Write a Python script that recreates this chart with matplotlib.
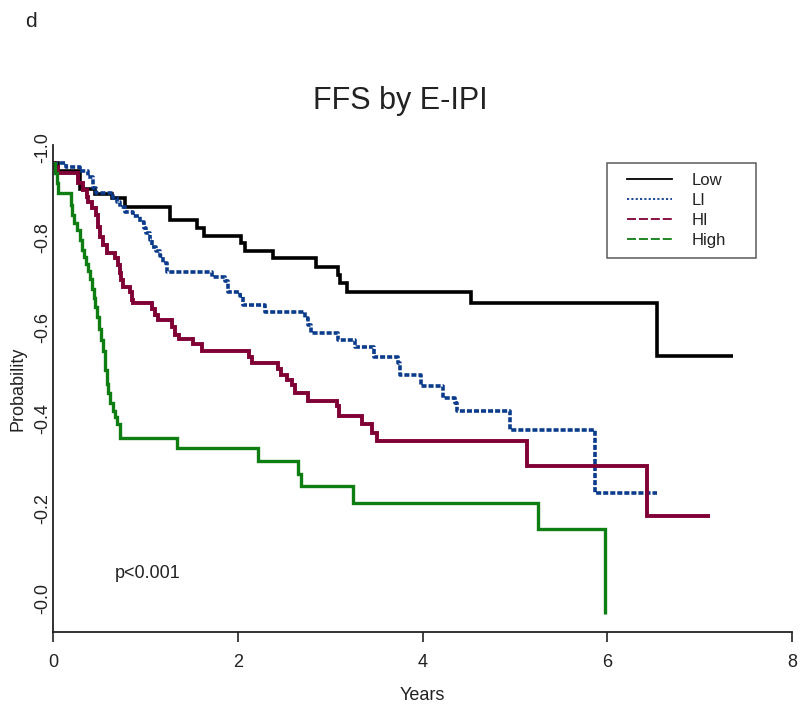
import matplotlib
matplotlib.use("Agg")
import matplotlib.pyplot as plt
from matplotlib.lines import Line2D
from matplotlib.legend_handler import HandlerLine2D

plt.rcParams['font.family'] = ['Liberation Sans', 'DejaVu Sans']

# ---------------- data ----------------
groups = ["Low", "LI", "HI", "High"]

low_t = [0.05, 0.29, 0.45, 0.64, 0.78, 1.27, 1.56, 1.63, 2.04, 2.08, 2.38, 2.85,
         3.08, 3.11, 3.18, 4.52, 6.54]
low_p = [0.983, 0.942, 0.931, 0.922, 0.902, 0.873, 0.855, 0.838, 0.822, 0.804,
         0.789, 0.769, 0.751, 0.733, 0.714, 0.689, 0.573]
low_end = 7.36

li_t = [0.14, 0.29, 0.38, 0.43, 0.47, 0.65, 0.69, 0.73, 0.78, 0.87, 0.94, 0.98,
        1.01, 1.05, 1.07, 1.12, 1.16, 1.19, 1.23, 1.72, 1.86, 1.89, 2.02, 2.06,
        2.29, 2.73, 2.76, 2.79, 3.08, 3.27, 3.48, 3.73, 3.76, 3.98, 4.22, 4.35,
        4.37, 4.95, 5.87]
li_p = [0.991, 0.982, 0.969, 0.945, 0.933, 0.922, 0.913, 0.902, 0.891, 0.882,
        0.869, 0.856, 0.844, 0.829, 0.813, 0.805, 0.793, 0.778, 0.758, 0.747,
        0.738, 0.715, 0.705, 0.686, 0.669, 0.656, 0.640, 0.622, 0.607, 0.591,
        0.569, 0.556, 0.529, 0.505, 0.480, 0.467, 0.451, 0.409, 0.269]
li_end = 6.54

hi_t = [0.02, 0.05, 0.27, 0.33, 0.37, 0.38, 0.42, 0.47, 0.49, 0.51, 0.54, 0.58,
        0.67, 0.70, 0.72, 0.74, 0.76, 0.83, 0.85, 0.87, 1.07, 1.10, 1.14, 1.29,
        1.32, 1.36, 1.52, 1.61, 2.12, 2.15, 2.44, 2.47, 2.53, 2.59, 2.62, 2.76,
        3.07, 3.10, 3.34, 3.45, 3.51, 5.13, 6.43]
hi_p = [0.991, 0.978, 0.956, 0.940, 0.925, 0.913, 0.900, 0.884, 0.858, 0.836,
        0.818, 0.800, 0.789, 0.773, 0.756, 0.740, 0.724, 0.713, 0.696, 0.689,
        0.676, 0.664, 0.651, 0.636, 0.618, 0.609, 0.598, 0.584, 0.569, 0.556,
        0.544, 0.529, 0.518, 0.507, 0.489, 0.473, 0.462, 0.440, 0.422, 0.402,
        0.384, 0.329, 0.218]
hi_end = 7.11

high_t = [0.02, 0.04, 0.05, 0.19, 0.21, 0.23, 0.26, 0.29, 0.31, 0.34, 0.36, 0.38,
          0.40, 0.42, 0.44, 0.46, 0.48, 0.50, 0.52, 0.54, 0.56, 0.58, 0.60, 0.62,
          0.65, 0.67, 0.69, 0.72, 1.34, 2.22, 2.65, 2.68, 3.25, 5.25, 5.98]
high_p = [0.978, 0.956, 0.933, 0.907, 0.885, 0.867, 0.851, 0.829, 0.807, 0.791,
          0.776, 0.760, 0.742, 0.720, 0.700, 0.680, 0.658, 0.633, 0.607, 0.584,
          0.540, 0.510, 0.489, 0.467, 0.451, 0.436, 0.422, 0.391, 0.367, 0.340,
          0.311, 0.284, 0.247, 0.189, 0.0]
high_end = 5.98

x_ticks = [0, 2, 4, 6, 8]
y_ticks = [0.0, 0.2, 0.4, 0.6, 0.8, 1.0]
y_tick_labels = ["-0.0", "-0.2", "-0.4", "-0.6", "-0.8", "-1.0"]

title = "FFS by E-IPI"
panel = "d"
p_text = "p<0.001"

# ---------------- styles ----------------
colors = {"Low": "#000000", "LI": "#0b3c8c", "HI": "#800036", "High": "#0e7d12"}

fig = plt.figure(figsize=(8.0, 7.09), dpi=100)
ax = fig.add_axes([0.06625, 0.1086, 0.92375, 0.6869])


def km(ts, ps, end):
    return [0.0] + list(ts) + [end], [1.0] + list(ps) + [ps[-1]]


curves = [
    ("Low", km(low_t, low_p, low_end), dict(lw=2.6, ls="-")),
    ("LI", km(li_t, li_p, li_end), dict(lw=2.6, ls=(0, (1.4, 0.55)))),
    ("HI", km(hi_t, hi_p, hi_end), dict(lw=2.8, ls="-")),
    ("High", km(high_t, high_p, high_end), dict(lw=2.4, ls="-")),
]
for name, (tt, pp), st in curves:
    ax.step(tt, pp, where="post", color=colors[name], solid_capstyle="butt",
            dash_capstyle="butt", solid_joinstyle="miter", **st)

ax.set_xlim(0, 8)
ax.set_ylim(-0.04, 1.04)
ax.spines["top"].set_visible(False)
ax.spines["right"].set_visible(False)
for s in ("left", "bottom"):
    ax.spines[s].set_linewidth(1.3)
    ax.spines[s].set_color("#222222")

ax.set_xticks(x_ticks)
ax.set_xticklabels([str(v) for v in x_ticks], fontsize=13, color="#222222")
ax.tick_params(axis="x", length=7, width=1.2, pad=9, color="#222222")

ax.set_yticks(y_ticks)
ax.set_yticklabels(y_tick_labels, rotation=90, va="bottom", ha="right",
                   fontsize=13, color="#222222")
ax.tick_params(axis="y", length=0, pad=1)

ax.set_xlabel("Years", fontsize=13, labelpad=11, color="#222222")
ax.set_ylabel("Probability", fontsize=13, labelpad=6, color="#222222")

ax.text(0.67, 0.089, p_text, fontsize=13, ha="left", va="center", color="#222222")

fig.text(0.5, 0.857, title, fontsize=22, ha="center", va="center", color="#222222")
fig.text(0.032, 0.969, panel, fontsize=15, ha="left", va="center", color="#222222")

# legend with thin proxy lines
handles = [
    Line2D([], [], color="#000000", lw=1.3, ls="-"),
    Line2D([], [], color=colors["LI"], lw=1.3, ls=(0, (1.2, 1.2))),
    Line2D([], [], color=colors["HI"], lw=1.3, ls=(0, (5, 1.6))),
    Line2D([], [], color=colors["High"], lw=1.3, ls=(0, (5, 1.6))),
]
leg = ax.legend(handles, groups, loc="upper left",
                bbox_to_anchor=(0.7497, 0.963 - 0.2, 0.2016, 0.2),
                mode="expand", borderaxespad=0, fontsize=12,
                frameon=True, fancybox=False, shadow=False,
                borderpad=0.6, labelspacing=0.3, handlelength=3.3,
                handletextpad=1.2,
                handler_map={Line2D: HandlerLine2D(xpad=0.6)})
leg.get_frame().set_edgecolor("#333333")
leg.get_frame().set_linewidth(1.1)
for t in leg.get_texts():
    t.set_color("#222222")

fig.savefig("out.png", dpi=100)
